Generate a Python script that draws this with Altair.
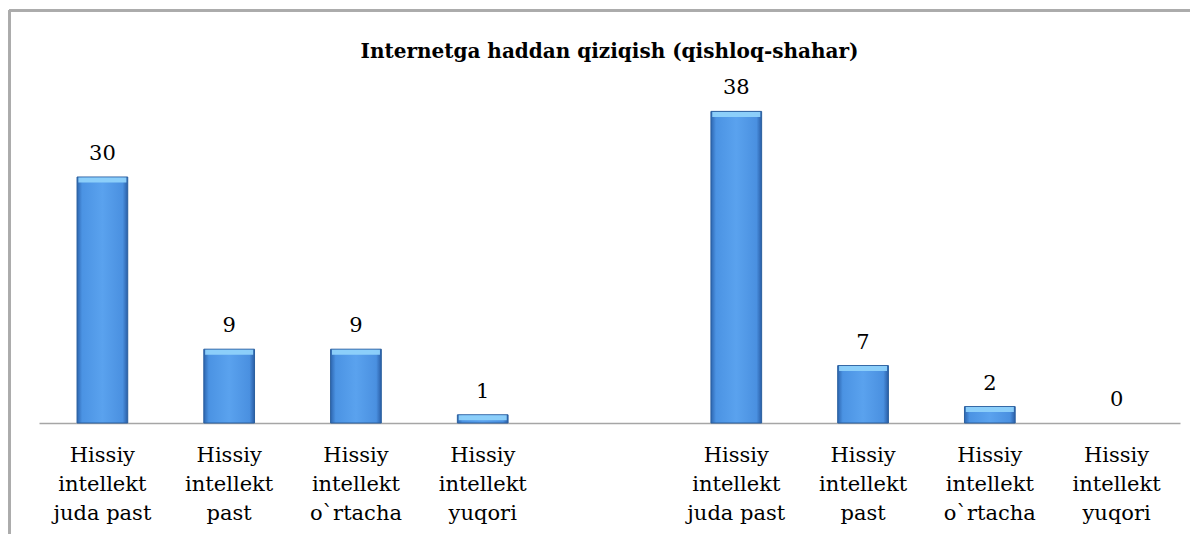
import altair as alt
import pandas as pd

title_text = "Internetga haddan qiziqish (qishloq-shahar)"
categories = [
    "Hissiy|intellekt|juda past",
    "Hissiy|intellekt|past",
    "Hissiy|intellekt|o`rtacha",
    "Hissiy|intellekt|yuqori",
]
qishloq = [30, 9, 9, 1]
shahar = [38, 7, 2, 0]

rows = []
for i, (c, v) in enumerate(zip(categories, qishloq)):
    rows.append({"id": f"{i + 1}|{c}", "value": v})
rows.append({"id": "5|", "value": None})
for i, (c, v) in enumerate(zip(categories, shahar)):
    rows.append({"id": f"{i + 6}|{c}", "value": v})
df = pd.DataFrame(rows)
order = list(df["id"])

SERIF = "DejaVu Serif"
W, H = 1141, 344.4
x = alt.X("id:N", sort=order,
          scale=alt.Scale(domain=order, paddingInner=0.6, paddingOuter=0.3),
          axis=alt.Axis(title=None, labelAngle=0, ticks=False, domainColor="#a6a6a6",
                        domainWidth=1.5, labelFont=SERIF, labelFontSize=21,
                        labelColor="#000000", labelLineHeight=29, labelPadding=21,
                        labelBaseline="top",
                        labelExpr="slice(split(datum.value, '|'), 1)"))
y = alt.Y("value:Q", scale=alt.Scale(domain=[0, 42]), axis=None)

base = alt.Chart(df)
pos = base.transform_filter("datum.value > 0")
bars = pos.mark_bar(
    stroke="#2a5f9e", strokeWidth=1,
    color=alt.Gradient(
        gradient="linear", x1=0, x2=1, y1=0, y2=0,
        stops=[
            alt.GradientStop(color="#2d66b0", offset=0),
            alt.GradientStop(color="#4b93e3", offset=0.1),
            alt.GradientStop(color="#5aa2ee", offset=0.5),
            alt.GradientStop(color="#4a90e0", offset=0.9),
            alt.GradientStop(color="#2a5ea6", offset=1),
        ],
    ),
).encode(x=x, y=y)

top = pos.mark_tick(
    thickness=5, size=48, yOffset=3, color="#8fd2fb", opacity=0.95
).encode(x=x, y=y)

labels = base.transform_filter("isValid(datum.value)").mark_text(
    font=SERIF, fontSize=21, color="#000000",
    baseline="alphabetic", dy=-17
).encode(x=x, y=y, text=alt.Text("value:Q"))

title = alt.Chart(pd.DataFrame({"t": [title_text]})).mark_text(
    font=SERIF, fontSize=20, fontWeight="bold", color="#000000",
    baseline="middle", align="center"
).encode(x=alt.value(W / 2), y=alt.value(-26.6), text="t:N")

frame_top = alt.Chart(df).mark_rule(color="#ababab", strokeWidth=2).encode(
    x=alt.value(-29.5), x2=alt.value(1170), y=alt.value(-68))
frame_left = alt.Chart(df).mark_rule(color="#ababab", strokeWidth=2).encode(
    x=alt.value(-29.5), y=alt.value(-68), y2=alt.value(600))

chart = alt.layer(frame_top, frame_left, bars, top, labels, title).properties(
    width=W, height=H,
    autosize=alt.AutoSizeParams(type="none"),
    padding={"left": 31, "top": 70.6, "right": 10, "bottom": 111},
).configure_view(stroke=None)

chart.save("out.html", embed_options={"renderer": "svg", "actions": False})
